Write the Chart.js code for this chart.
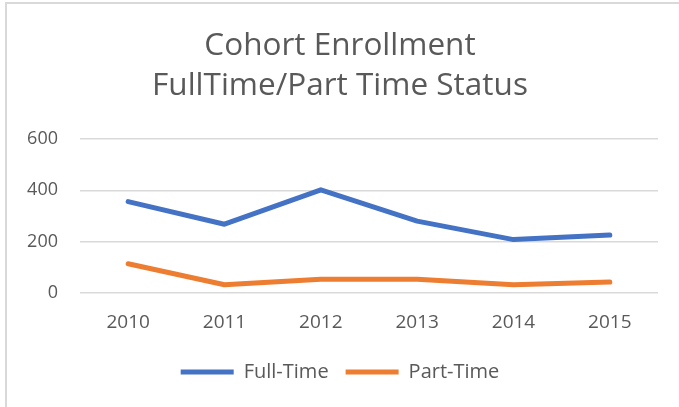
<!DOCTYPE html>
<html>
<head>
<meta charset="utf-8">
<script src="https://cdn.jsdelivr.net/npm/chart.js@4"></script>
<style>
  html, body { margin: 0; padding: 0; background: #fff; }
  #frame {
    position: absolute; left: 5px; top: 2px;
    width: 672px; height: 403px;
    border-top: 2px solid #d9d9d9;
    border-left: 2px solid #d9d9d9;
  }
  #wrap { position: relative; width: 672px; height: 403px; }
</style>
</head>
<body>
<div id="frame"><div id="wrap"><canvas id="grafico"></canvas></div></div>
<script>
const years = ['2010', '2011', '2012', '2013', '2014', '2015'];
const fullTime = [356, 268, 402, 280, 208, 226];
const partTime = [114, 32, 54, 54, 32, 43];
const yTicks = [0, 200, 400, 600];

const corTexto = '#595959';
const fonte = 'Open Sans';

const ctx = document.getElementById('grafico').getContext('2d');

const grafico = new Chart(ctx, {
  type: 'line',
  data: {
    labels: years,
    datasets: [{
      label: 'Full-Time',
      data: fullTime,
      borderColor: '#4472C4',
      backgroundColor: '#4472C4',
      borderWidth: 5,
      borderCapStyle: 'round',
      borderJoinStyle: 'round',
      pointRadius: 0,
      tension: 0
    }, {
      label: 'Part-Time',
      data: partTime,
      borderColor: '#ED7D31',
      backgroundColor: '#ED7D31',
      borderWidth: 5,
      borderCapStyle: 'round',
      borderJoinStyle: 'round',
      pointRadius: 0,
      tension: 0
    }]
  },
  options: {
    responsive: true,
    maintainAspectRatio: false,
    animation: false,
    // padding esquerdo um pouco maior para centralizar titulo/legenda
    layout: { padding: { left: 15, right: 21, top: 0, bottom: 15 } },
    plugins: {
      title: {
        display: true,
        text: ['Cohort Enrollment', 'FullTime/Part Time Status'],
        color: corTexto,
        font: { family: fonte, size: 31.5, weight: 'normal', lineHeight: 1.27 },
        padding: { top: 22, bottom: 33 }
      },
      legend: {
        position: 'bottom',
        labels: {
          usePointStyle: true,
          pointStyleWidth: 53,
          pointStyle: 'line',
          boxHeight: 5,
          padding: 17,
          color: corTexto,
          font: { family: fonte, size: 20 }
        }
      },
      tooltip: { enabled: false }
    },
    scales: {
      x: {
        offset: true,
        grid: { display: false, drawTicks: false },
        border: { display: false },
        ticks: { color: corTexto, padding: 18, font: { family: fonte, size: 19 } },
        afterFit: (scale) => { scale.height = 52; }
      },
      y: {
        min: 0,
        max: 600,
        afterBuildTicks: (scale) => { scale.ticks = yTicks.map(v => ({ value: v })); },
        grid: { color: '#d9d9d9', lineWidth: 1.5, drawTicks: false },
        border: { display: false },
        ticks: { color: corTexto, padding: 22, font: { family: fonte, size: 18 } },
        afterFit: (scale) => { scale.width = 58; }
      }
    }
  }
});
</script>
</body>
</html>
